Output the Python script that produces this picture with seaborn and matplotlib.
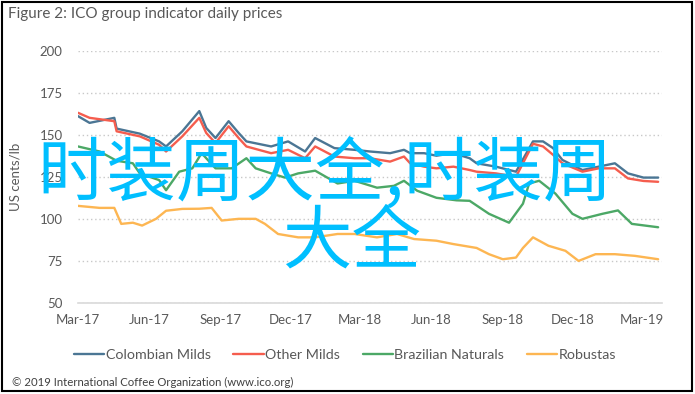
import matplotlib
matplotlib.use("Agg")
import matplotlib.pyplot as plt
import matplotlib.dates as mdates
from matplotlib.patches import Rectangle
import pandas as pd
import seaborn as sns

# values (US cents/lb)
milds_dates = ["2017-03-01", "2017-03-16", "2017-04-17", "2017-04-20", "2017-05-20", "2017-06-14",
               "2017-06-23", "2017-07-14", "2017-08-05", "2017-08-14", "2017-08-26", "2017-09-12",
               "2017-09-25", "2017-10-05", "2017-11-06", "2017-11-28", "2017-12-20", "2018-01-02",
               "2018-01-27", "2018-02-22", "2018-03-14", "2018-04-09", "2018-04-27", "2018-05-05",
               "2018-05-23", "2018-06-08", "2018-06-30", "2018-07-21", "2018-07-30", "2018-08-24",
               "2018-09-19", "2018-10-11", "2018-10-24", "2018-11-06", "2018-11-18", "2018-12-14",
               "2019-01-04", "2019-01-25", "2019-02-11", "2019-03-03", "2019-03-22"]
colombian = [161, 157, 160, 153.6, 150.6, 146, 143, 152, 164, 154, 148, 158, 151, 146, 143, 146,
             140, 148, 142, 141, 140, 139, 141, 139, 139, 137.5, 139, 136, 133, 131, 128, 146,
             146, 142, 135, 129, 131, 133, 127, 124.5, 124.5]
other_milds = [163, 160, 158, 152, 149, 144, 140, 149, 160, 151, 145, 155, 148, 143, 139, 141,
               136, 143, 137, 136, 136, 134, 137, 133, 131, 130, 131, 129, 128, 127, 125, 144.6,
               143, 138, 133, 128, 130, 130, 124, 122.5, 122]

brazil_dates = ["2017-03-01", "2017-03-29", "2017-04-20", "2017-05-11", "2017-05-20", "2017-06-14",
                "2017-06-23", "2017-07-10", "2017-07-27", "2017-08-08", "2017-08-26", "2017-09-16",
                "2017-10-05", "2017-10-17", "2017-11-06", "2017-11-24", "2017-12-11", "2018-01-02",
                "2018-01-31", "2018-02-22", "2018-03-23", "2018-04-14", "2018-04-27", "2018-05-14",
                "2018-06-08", "2018-07-04", "2018-07-21", "2018-08-15", "2018-09-10", "2018-09-28",
                "2018-10-06", "2018-10-19", "2018-11-09", "2018-12-01", "2018-12-14", "2019-01-09",
                "2019-01-29", "2019-02-16", "2019-03-22"]
brazilian = [143, 140, 134.5, 133, 127, 123, 117, 128, 130, 139, 130, 130, 136, 130, 127, 124.5,
             127, 128.6, 121, 122.6, 118.5, 119.6, 122.6, 116.7, 112.5, 111, 110.7, 103, 97.7,
             109, 121, 122.6, 115, 103, 100, 103, 105, 97, 95]

robusta_dates = ["2017-03-01", "2017-03-29", "2017-04-17", "2017-04-26", "2017-05-11", "2017-05-23",
                 "2017-06-10", "2017-06-23", "2017-07-14", "2017-08-05", "2017-08-21", "2017-09-03",
                 "2017-09-25", "2017-10-17", "2017-10-29", "2017-11-15", "2017-12-11", "2018-01-02",
                 "2018-01-31", "2018-02-22", "2018-03-23", "2018-04-18", "2018-05-10", "2018-06-08",
                 "2018-06-30", "2018-07-30", "2018-08-15", "2018-09-02", "2018-09-19", "2018-09-28",
                 "2018-10-11", "2018-10-31", "2018-11-22", "2018-12-09", "2018-12-31", "2019-01-25",
                 "2019-02-20", "2019-03-22"]
robustas = [107.7, 106.5, 106.5, 97, 97.7, 96, 100, 104.8, 105.9, 106, 106.5, 99, 100, 100, 97,
            91, 89, 89, 91, 91, 89, 91, 88, 87, 85, 82.7, 79, 76, 77, 82.7, 89, 84, 81, 75, 79,
            79, 78, 76]

series_names = ["Colombian Milds", "Other Milds", "Brazilian Naturals", "Robustas"]
series_colors = ["#4B7694", "#F55D4E", "#4CA866", "#FDB652"]
y_ticks = [50, 75, 100, 125, 150, 175, 200]

# long table for seaborn
frames = []
for name, dates, vals in [(series_names[0], milds_dates, colombian),
                          (series_names[1], milds_dates, other_milds),
                          (series_names[2], brazil_dates, brazilian),
                          (series_names[3], robusta_dates, robustas)]:
    frames.append(pd.DataFrame({"date": pd.to_datetime(dates), "price": vals, "group": name}))
df = pd.concat(frames, ignore_index=True)

sns.set_style("white")
plt.rcParams["font.family"] = ["Lato", "DejaVu Sans"]

fig = plt.figure(figsize=(6.95, 3.94), dpi=100)
ax = fig.add_axes([78 / 695, 1 - 303 / 394, 584 / 695, 252.5 / 394])

sns.lineplot(data=df, x="date", y="price", hue="group", hue_order=series_names,
             palette=series_colors, linewidth=1.7, ax=ax, legend=False, estimator=None)

ax.set_ylim(50, 200)
ax.set_yticks(y_ticks)
ax.set_xlim(pd.Timestamp("2017-03-01"), pd.Timestamp("2019-03-27"))
ax.xaxis.set_major_locator(mdates.MonthLocator(bymonth=[3, 6, 9, 12]))
ax.xaxis.set_major_formatter(mdates.DateFormatter("%b-%y"))
ax.set_xlabel("")
ax.set_ylabel("")

ax.grid(axis="y", linestyle=(0, (1, 2)), color="#C8C8C8", linewidth=1)
ax.grid(axis="x", visible=False)
for side in ["top", "right", "left"]:
    ax.spines[side].set_visible(False)
ax.spines["bottom"].set_color("#D9D9D9")
ax.spines["bottom"].set_linewidth(1.2)
ax.tick_params(axis="y", length=0, pad=11, labelsize=9.5, labelcolor="#595959")
ax.tick_params(axis="x", length=0, pad=8, labelsize=9.5, labelcolor="#595959")

# legend
ax.legend(handles=ax.get_lines()[:4], labels=series_names, loc="center",
          bbox_to_anchor=(345 / 695, 1 - 355 / 394), bbox_transform=fig.transFigure,
          ncol=4, frameon=False, fontsize=10.3, handlelength=2.1, handletextpad=0.1,
          columnspacing=1.6, labelcolor="#595959")

# texts
fig.text(8 / 695, 1 - 14 / 394, "Figure 2: ICO group indicator daily prices",
         fontsize=11, color="#595959", va="center", ha="left")
fig.text(15 / 695, 1 - 177 / 394, "US cents/lb", rotation=90, fontsize=9.5,
         color="#595959", va="center", ha="center")
fig.text(12 / 695, 1 - 382 / 394, "© 2019 International Coffee Organization (www.ico.org)",
         fontsize=8.2, color="#404040", va="center", ha="left")

# overlay text
fig.text(37 / 695, 1 - 175 / 394, "时装周大全,时装周", fontsize=50, color="#00BFFF",
         va="center", ha="left", family=["Noto Sans CJK SC", "DejaVu Sans"], zorder=5)
fig.text(282 / 695, 1 - 243 / 394, "大全", fontsize=50, color="#00BFFF",
         va="center", ha="left", family=["Noto Sans CJK SC", "DejaVu Sans"], zorder=5)

# frame around figure
fig.add_artist(Rectangle((1.5 / 695, 3.5 / 394), 690.5 / 695, 389 / 394,
                         transform=fig.transFigure, fill=False, edgecolor="black", linewidth=1.5))

fig.savefig("out.png", dpi=100)
